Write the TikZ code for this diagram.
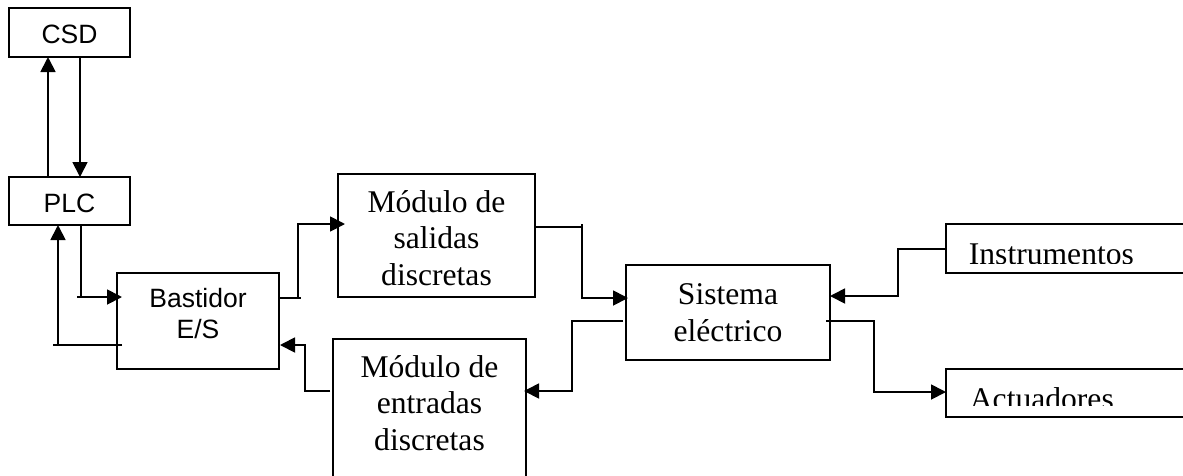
\documentclass[tikz,border=0pt]{standalone}
\usepackage{fontspec}
\setmainfont{Liberation Serif}
\setsansfont{Liberation Sans}
\usetikzlibrary{arrows.meta}
\begin{document}
\begin{tikzpicture}[x=1pt,y=-1pt,line width=1.8pt,
  box/.style={draw,line width=1.8pt,inner sep=0pt,outer sep=0pt},
  arr/.style={-{Triangle[length=15pt,width=15pt]}},
  sf/.style={font=\sffamily\fontsize{26.5}{30.5}\selectfont,align=center,inner sep=0pt},
  rm/.style={font=\fontsize{31.6}{36.4}\selectfont,align=center,inner sep=0pt}]
\clip (0,0) rectangle (1183,475);
\fill[white] (0,0) rectangle (1183,475);
% boxes
\node[box,minimum width=121,minimum height=49] (csd) at (69.5,32.5) {};
\node[box,minimum width=121,minimum height=48] (plc) at (69.5,201) {};
\node[box,minimum width=162,minimum height=96] (bast) at (198,321) {};
\node[box,minimum width=197,minimum height=123] (sal) at (436.5,235.5) {};
\node[box,minimum width=193,minimum height=161] (ent) at (429.5,419.5) {};
\node[box,minimum width=204,minimum height=95] (sis) at (728,312.5) {};
\node[box,minimum width=254,minimum height=49] (ins) at (1073,248.5) {};
\node[box,minimum width=254,minimum height=48] (act) at (1073,393) {};
% texts (anchor=base is the baseline of the last line)
\node[sf,anchor=base] (csdt) at (69.5,43) {CSD};
\node[sf,anchor=base] (plct) at (69.5,212) {PLC};
\node[sf,anchor=base] (bastt) at (198,338) {Bastidor\\E/S};
\node[rm,anchor=base] (salt) at (436.5,285) {Módulo de\\salidas\\discretas};
\node[rm,anchor=base] (entt) at (429.5,450) {Módulo de\\entradas\\discretas};
\node[rm,anchor=base] (sist) at (728,341) {Sistema\\eléctrico};
\begin{scope}
\clip (950,228) rectangle (1183,263);
\node[rm,anchor=base west] (inst) at (968,264) {Instrumentos};
\end{scope}
\begin{scope}
\clip (950,372) rectangle (1183,405);
\node[rm,anchor=base west] (actt) at (969,409) {Actuadores};
\end{scope}
% connectors
\draw[arr] (48,0 |- plc.north) -- (48,0 |- csd.south);
\draw[arr] (80,0 |- csd.south) -- (80,0 |- plc.north);
\draw ([shift={(5,24)}]bast.west) -- (53,345);
\draw[arr] (58,345) -- (58,0 |- plc.south);
\draw (77,297) -- (81,297);
\draw[arr] (81,0 |- plc.south) -- (81,297) -- ([shift={(5,-24)}]bast.west);
\draw (bast.east |- 0,298) -- (301,298);
\draw[arr] (298,298) -- (298,224) -- ([shift={(7,-11.5)}]sal.west);
\draw[arr] (330,391) -- (305,391) -- (305,345) -- ([shift={(1,24)}]bast.east);
\draw (sal.east |- 0,227) -- (582,227);
\draw[arr] (582,224) -- (582,298) -- ([shift={(2,-14.5)}]sis.west);
\draw[arr] (623,321) -- (572,321) -- (572,391) -- ([xshift=-2]ent.east |- 0,391);
\draw[arr] (ins.west |- 0,249) -- (898,249) -- (898,296) -- (sis.east |- 0,296);
\draw[arr] (826,321) -- (874,321) -- (874,392) -- (act.west |- 0,392);
\end{tikzpicture}
\end{document}
